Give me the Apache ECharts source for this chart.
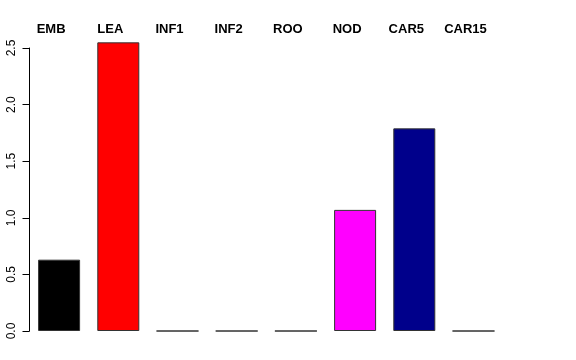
<!DOCTYPE html>
<html><head><meta charset="utf-8">
<script src="https://cdn.jsdelivr.net/npm/echarts@6/dist/echarts.min.js"></script>
<style>html,body{margin:0;padding:0;background:#fff}#c{width:576px;height:360px}</style>
</head><body><div id="c"></div>
<script>
var categories = ['EMB','LEA','INF1','INF2','ROO','NOD','CAR5','CAR15'];
var values = [0.63, 2.55, 0, 0, 0, 1.07, 1.79, 0];
var barColors = ['#000000','#FF0000','#00CD00','#0000FF','#00FFFF','#FF00FF','#00008B','#BEBEBE'];
var yTicks = [0, 0.5, 1.0, 1.5, 2.0, 2.5];

var chart = echarts.init(document.getElementById('c'));
chart.setOption({
  animation: false,
  grid: {left: 29.5, top: 48, width: 473.6, bottom: 29, containLabel: false},
  xAxis: {
    type: 'category', data: categories, position: 'top',
    axisLine: {show: false}, axisTick: {show: false}, splitLine: {show: false},
    axisLabel: {fontFamily: 'Liberation Sans', fontWeight: 'bold', fontSize: 13, color: '#000', margin: 12,
      padding: [0, 16, 0, 0]}
  },
  yAxis: {
    type: 'value', min: 0, max: 2.5, interval: 0.5,
    axisLine: {show: true, lineStyle: {color: '#000', width: 1}},
    axisTick: {show: true, length: 7, lineStyle: {color: '#000'}},
    splitLine: {show: false},
    axisLabel: {rotate: 90, fontFamily: 'Liberation Sans', fontSize: 12, color: '#000', margin: 12,
      formatter: function (v) { return v.toFixed(1); }}
  },
  series: [{
    type: 'bar', clip: false, barWidth: 42,
    data: values.map(function (v, i) {
      return {value: v, itemStyle: {color: barColors[i]}};
    }),
    itemStyle: {borderColor: '#333', borderWidth: 1}
  }]
});
</script></body></html>
